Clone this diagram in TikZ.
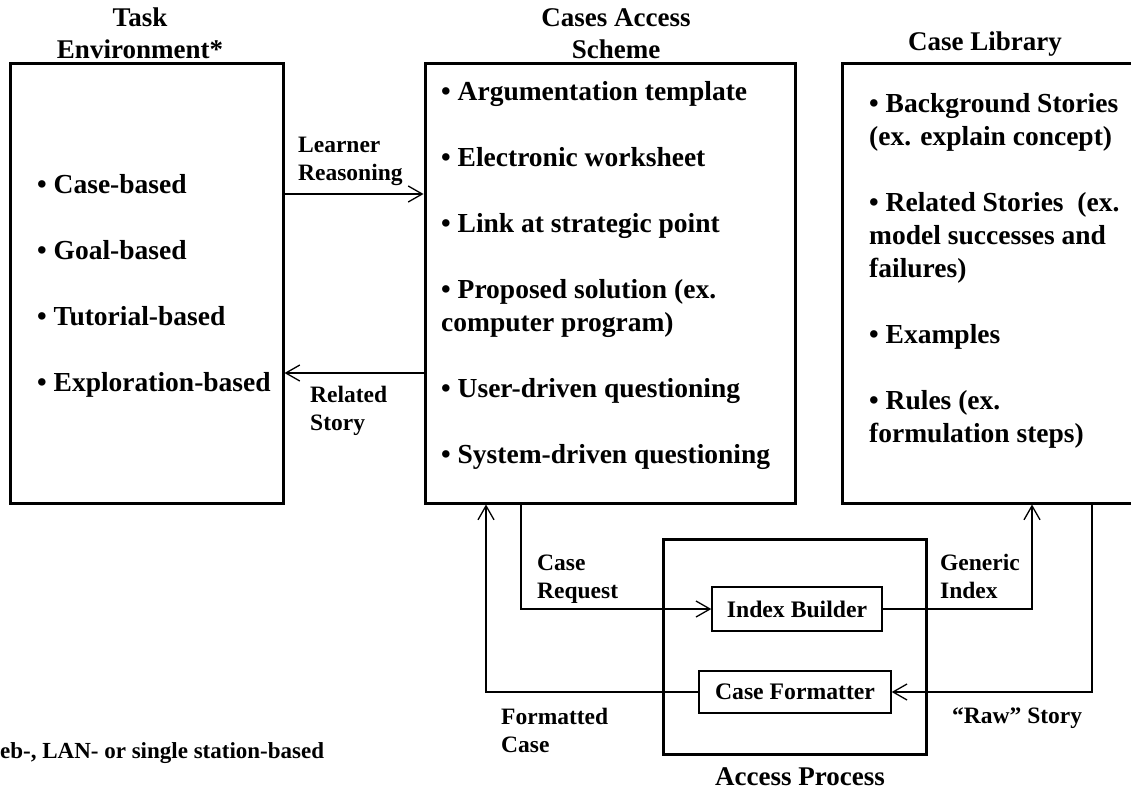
\documentclass[tikz,border=0pt]{standalone}
\usepackage{fontspec}
\setmainfont[Ligatures=TeX]{Liberation Serif}
\usetikzlibrary{arrows.meta,positioning}

\tikzset{
  bigbox/.style={draw,line width=3pt,inner sep=0pt},
  smallbox/.style={draw,line width=1.4pt,inner sep=0pt,
    font=\fontsize{23.7}{28}\selectfont\bfseries},
  conn/.style={line width=1.3pt,-{Straight Barb[length=14pt,width=16pt,line width=1.3pt]}},
  itemtext/.style={anchor=base west,align=left,inner sep=0pt,
    font=\fontsize{27.5}{33}\selectfont\bfseries},
  titletext/.style={anchor=base,align=center,inner sep=0pt,
    font=\fontsize{27}{32}\selectfont\bfseries},
  flowlabel/.style={anchor=base west,align=left,inner sep=0pt,
    font=\fontsize{23.5}{28}\selectfont\bfseries}
}

\begin{document}
\begin{tikzpicture}[x=1pt,y=-1pt]
\useasboundingbox (0,0) rectangle (1131,792);

% the three main boxes
\node[bigbox,minimum width=273pt,minimum height=440pt] (task) at (146.5,283) {};
\node[bigbox,minimum width=370pt,minimum height=440pt] (scheme) at (610,283) {};
\node[bigbox,minimum width=298pt,minimum height=440pt] (library) at (991,283) {};

% titles (multi-line nodes sit on their last baseline)
\node[titletext] (tasktitle) at (140,59) {Task\\Environment*};
\node[titletext] (schemetitle) at (616,59) {Cases Access\\Scheme};
\node[titletext] (librarytitle) at (985,50) {Case Library};

% box contents
\node[itemtext] (taskitems) at (37,391) {%
  \textbullet\ Case-based\\[33pt]
  \textbullet\ Goal-based\\[33pt]
  \textbullet\ Tutorial-based\\[33pt]
  \textbullet\ Exploration-based};
\node[itemtext] (schemeitems) at (441,463) {%
  \textbullet\ Argumentation template\\[33pt]
  \textbullet\ Electronic worksheet\\[33pt]
  \textbullet\ Link at strategic point\\[33pt]
  \textbullet\ Proposed solution (ex.\\
  computer program)\\[33pt]
  \textbullet\ User-driven questioning\\[33pt]
  \textbullet\ System-driven questioning};
\node[itemtext] (libraryitems) at (869,442) {%
  \textbullet\ Background Stories\\
  (ex. explain concept)\\[33pt]
  \textbullet\ Related Stories\ \ (ex.\\
  model successes and\\
  failures)\\[33pt]
  \textbullet\ Examples\\[33pt]
  \textbullet\ Rules (ex.\\
  formulation steps)};

% access process
\node[bigbox,minimum width=263pt,minimum height=215pt] (access) at (794.5,646.5) {};
\node[smallbox,minimum width=170pt,minimum height=44pt] (ib) at (797,609) {Index Builder};
\node[smallbox,minimum width=192pt,minimum height=42pt] (cf) at (795,692) {Case Formatter};
\node[titletext] (accesstitle) at (800,785) {Access Process};

% connectors
\draw[conn] (task.east |- 0,194) -- (scheme.west |- 0,194);
\draw[conn] (scheme.west |- 0,373) -- (task.east |- 0,373);
\draw[conn] (scheme.south -| 521,0) |- (ib.west);
\draw[conn] (ib.east) -| (library.south -| 1032,0);
\draw[conn] (library.south -| 1092,0) |- (cf.east);
\draw[conn] (cf.west) -| (scheme.south -| 486,0);

% connector labels
\node[flowlabel] (lrlabel) at (298,180) {Learner\\Reasoning};
\node[flowlabel] (rslabel) at (310,430) {Related\\Story};
\node[flowlabel] (crlabel) at (537,598) {Case\\Request};
\node[flowlabel] (gilabel) at (940,598) {Generic\\Index};
\node[flowlabel] (fclabel) at (501,752) {Formatted\\Case};
\node[flowlabel] (rawlabel) at (952,723) {“Raw” Story};

% footnote
\node[anchor=base west,inner sep=0pt,font=\fontsize{23}{27}\selectfont\bfseries]
  (footnote) at (0,758) {eb-, LAN- or single station-based};
\end{tikzpicture}
\end{document}
